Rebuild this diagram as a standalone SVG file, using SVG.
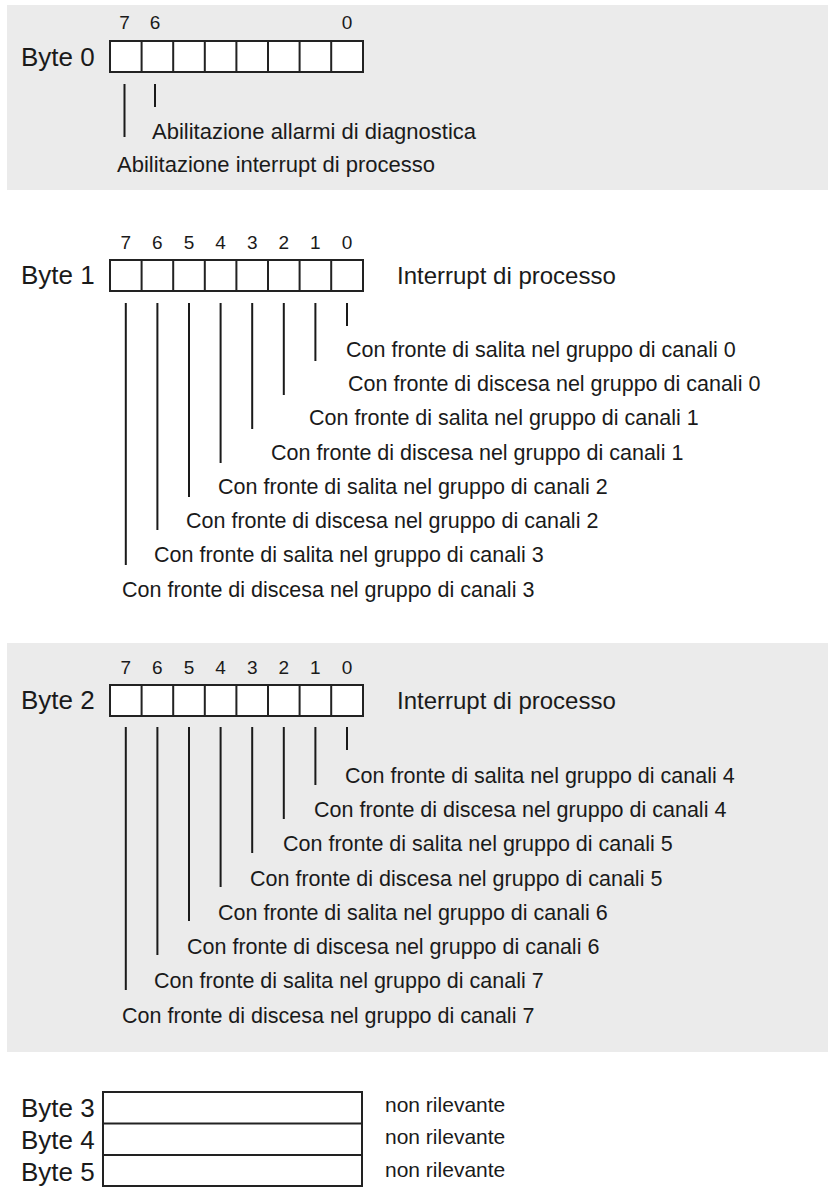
<svg xmlns="http://www.w3.org/2000/svg" width="828" height="1187" viewBox="0 0 828 1187">
<style>
.bg{fill:#ebebeb}
.box{fill:#fff;stroke:#222;stroke-width:2}
.div{stroke:#222;stroke-width:2}
.ln{stroke:#1a1a1a;stroke-width:2;fill:none}
text{font-family:"Liberation Sans",Arial,sans-serif;fill:#1a1a1a}
.byte{font-size:26px}
.dig{font-size:19px;text-anchor:middle}
.lbl{font-size:21.5px}
.ab{font-size:22px}
.hd{font-size:24px}
.nr{font-size:21px}
</style>
<rect class="bg" x="7" y="5" width="821" height="185"/>
<rect class="bg" x="7" y="643" width="821" height="409"/>

<g id="byte0">
<text class="byte" x="21" y="66">Byte 0</text>
<text class="dig" x="124.5" y="29">7</text>
<text class="dig" x="155" y="29">6</text>
<text class="dig" x="347" y="29">0</text>
<rect class="box" x="110" y="41" width="253" height="31"/>
<path class="div" d="M141.6 41V72M173.2 41V72M204.8 41V72M236.4 41V72M268 41V72M299.6 41V72M331.2 41V72"/>
<text class="ab" x="152" y="139">Abilitazione allarmi di diagnostica</text>
<text class="ab" x="117" y="172">Abilitazione interrupt di processo</text>
</g>

<g id="byte1">
<text class="byte" x="21" y="284">Byte 1</text>
<text class="dig" x="125.8" y="249">7</text>
<text class="dig" x="157.4" y="249">6</text>
<text class="dig" x="189" y="249">5</text>
<text class="dig" x="220.6" y="249">4</text>
<text class="dig" x="252.2" y="249">3</text>
<text class="dig" x="283.8" y="249">2</text>
<text class="dig" x="315.4" y="249">1</text>
<text class="dig" x="347" y="249">0</text>
<rect class="box" x="110" y="260" width="253" height="31"/>
<path class="div" d="M141.6 260V291M173.2 260V291M204.8 260V291M236.4 260V291M268 260V291M299.6 260V291M331.2 260V291"/>
<text class="hd" x="397" y="284">Interrupt di processo</text>
<text class="lbl" x="346" y="357">Con fronte di salita nel gruppo di canali 0</text>
<text class="lbl" x="348" y="391">Con fronte di discesa nel gruppo di canali 0</text>
<text class="lbl" x="309" y="425">Con fronte di salita nel gruppo di canali 1</text>
<text class="lbl" x="271" y="460">Con fronte di discesa nel gruppo di canali 1</text>
<text class="lbl" x="218" y="494">Con fronte di salita nel gruppo di canali 2</text>
<text class="lbl" x="186" y="528">Con fronte di discesa nel gruppo di canali 2</text>
<text class="lbl" x="154" y="562">Con fronte di salita nel gruppo di canali 3</text>
<text class="lbl" x="122" y="597">Con fronte di discesa nel gruppo di canali 3</text>
</g>

<g id="byte2">
<text class="byte" x="21" y="709">Byte 2</text>
<text class="dig" x="125.8" y="674">7</text>
<text class="dig" x="157.4" y="674">6</text>
<text class="dig" x="189" y="674">5</text>
<text class="dig" x="220.6" y="674">4</text>
<text class="dig" x="252.2" y="674">3</text>
<text class="dig" x="283.8" y="674">2</text>
<text class="dig" x="315.4" y="674">1</text>
<text class="dig" x="347" y="674">0</text>
<rect class="box" x="110" y="685" width="253" height="31"/>
<path class="div" d="M141.6 685V716M173.2 685V716M204.8 685V716M236.4 685V716M268 685V716M299.6 685V716M331.2 685V716"/>
<text class="hd" x="397" y="709">Interrupt di processo</text>
<text class="lbl" x="345" y="783">Con fronte di salita nel gruppo di canali 4</text>
<text class="lbl" x="314" y="817">Con fronte di discesa nel gruppo di canali 4</text>
<text class="lbl" x="283" y="851">Con fronte di salita nel gruppo di canali 5</text>
<text class="lbl" x="250" y="886">Con fronte di discesa nel gruppo di canali 5</text>
<text class="lbl" x="218" y="920">Con fronte di salita nel gruppo di canali 6</text>
<text class="lbl" x="187" y="954">Con fronte di discesa nel gruppo di canali 6</text>
<text class="lbl" x="154" y="988">Con fronte di salita nel gruppo di canali 7</text>
<text class="lbl" x="122" y="1023">Con fronte di discesa nel gruppo di canali 7</text>
</g>

<g id="bytes345">
<text class="byte" x="21" y="1117">Byte 3</text>
<text class="byte" x="21" y="1149">Byte 4</text>
<text class="byte" x="21" y="1181">Byte 5</text>
<rect class="box" x="103" y="1092" width="259" height="94"/>
<path class="div" d="M103 1123.5H362M103 1155H362"/>
<text class="nr" x="385" y="1112">non rilevante</text>
<text class="nr" x="385" y="1144">non rilevante</text>
<text class="nr" x="385" y="1177">non rilevante</text>
</g>

<g id="connectors">
<path class="ln" d="M124.5 84V137M155 84V107"/>
<path class="ln" d="M347 303V326M315.4 303V361M283.8 303V395M252.2 303V429M220.6 303V463M189 303V497M157.4 303V530M125.8 303V565"/>
<path class="ln" d="M347 727V750M315.4 727V785M283.8 727V819M252.2 727V853M220.6 727V887M189 727V921M157.4 727V955M125.8 727V990"/>
</g>
</svg>
